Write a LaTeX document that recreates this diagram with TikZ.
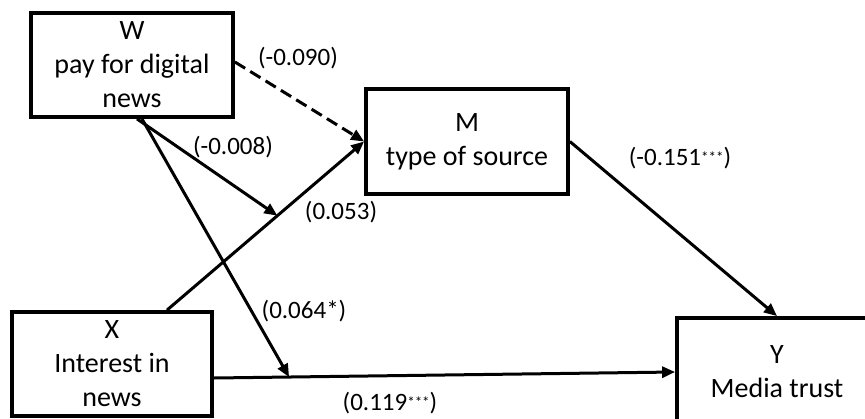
\documentclass[tikz,border=0pt]{standalone}
\usepackage{fontspec}
\setmainfont{Carlito}
\usetikzlibrary{arrows.meta,calc}
\newcommand{\smallstars}{{\fontsize{15}{15}\selectfont\raisebox{3pt}{***}}}
\begin{document}
\begin{tikzpicture}[x=1pt,y=-1pt,
  box/.style={draw,line width=3.8pt,rectangle,align=center,inner sep=0pt,
              font=\fontsize{28}{34}\selectfont},
  lab/.style={inner sep=0pt,font=\fontsize{25}{28}\selectfont},
  arr/.style={line width=3pt,-{Triangle[length=13pt,width=11pt]}},
  dasharr/.style={arr,dash pattern=on 12pt off 6pt}]
\clip (0,0) rectangle (865,418);
\fill[white] (0,0) rectangle (865,418);
\node[box,minimum width=202pt,minimum height=104pt] (W) at (132,65) {W\\pay for digital\\news};
\node[box,minimum width=202pt,minimum height=105pt] (M) at (467,141.5) {M\\type of source};
\node[box,minimum width=200pt,minimum height=104pt] (X) at (112,364) {X\\Interest in\\news};
\node[box,minimum width=200pt,minimum height=108pt] (Y) at (777,372) {Y\\Media trust};

\coordinate (Xtop) at ([xshift=55pt]X.north);
\coordinate (Xright) at ([yshift=-14pt]X.east);
\coordinate (p1) at ($(Xtop)!0.56!(M.west)$);
\coordinate (p2) at ($(Xright)!0.163!(Y.west)$);
\coordinate (Wb1) at ([xshift=5pt]W.south);
\coordinate (Wb2) at ([xshift=10pt]W.south);

\draw[dasharr] ([yshift=3pt]W.east) -- (M.west);
\draw[arr] (Xtop) -- (M.west);
\draw[arr] (Wb1) -- (p1);
\draw[arr] (Wb2) -- (p2);
\draw[arr] (Xright) -- (Y.west);
\draw[arr] (M.east) -- (Y.north);

\node[lab] (l1) at (298,58) {(-0.090)};
\node[lab] (l2) at (233,147) {(-0.008)};
\node[lab] (l3) at (341,212) {(0.053)};
\node[lab] (l4) at (304,311) {(0.064*)};
\node[lab] (l5) at (390,403) {(0.119\smallstars)};
\node[lab] (l6) at (680,158) {(-0.151\smallstars)};
\end{tikzpicture}
\end{document}
